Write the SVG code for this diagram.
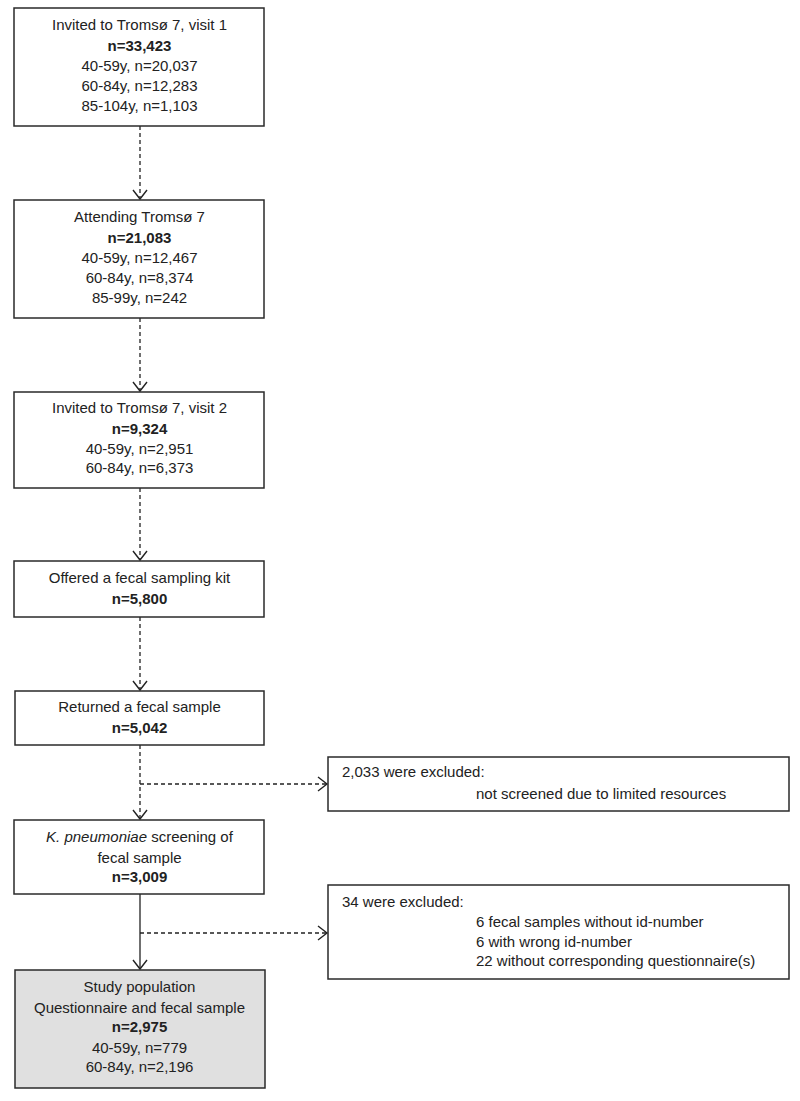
<svg xmlns="http://www.w3.org/2000/svg" width="800" height="1101" viewBox="0 0 800 1101">
<style>
.box{fill:#fff;stroke:#2a2a2a;stroke-width:1.5}
.grey{fill:#e0e0e0}
text{font-family:"Liberation Sans",Arial,sans-serif;font-size:15px;fill:#222}
.c{text-anchor:middle}
.b{font-weight:bold}
.dash{fill:none;stroke:#222;stroke-width:1.3;stroke-dasharray:4,3}
.solid{fill:none;stroke:#222;stroke-width:1.3}
</style>
<defs>
<marker id="ah" markerUnits="userSpaceOnUse" markerWidth="20" markerHeight="20" viewBox="-12 -10 14 20" refX="0" refY="0" orient="auto">
<path d="M-9,-7 L0,0 L-9,7" fill="none" stroke="#222" stroke-width="1.4"/>
</marker>
</defs>
<rect width="800" height="1101" fill="#fff"/>
<g id="connectors">
<line class="dash" x1="140" y1="126" x2="140" y2="199" marker-end="url(#ah)"/>
<line class="dash" x1="140" y1="318" x2="140" y2="391" marker-end="url(#ah)"/>
<line class="dash" x1="140" y1="488" x2="140" y2="560" marker-end="url(#ah)"/>
<line class="dash" x1="140" y1="617" x2="140" y2="690" marker-end="url(#ah)"/>
<line class="dash" x1="140" y1="745" x2="140" y2="819" marker-end="url(#ah)"/>
<line class="dash" x1="140" y1="784" x2="327" y2="784" marker-end="url(#ah)"/>
<line class="solid" x1="140" y1="894" x2="140" y2="969" marker-end="url(#ah)"/>
<line class="dash" x1="140" y1="933" x2="327" y2="933" marker-end="url(#ah)"/>
</g>
<g id="invited1">
<rect class="box" x="14" y="8" width="250" height="118"/>
<text class="c" x="139.5" y="30">Invited to Tromsø 7, visit 1</text>
<text class="c b" x="139.5" y="51">n=33,423</text>
<text class="c" x="139.5" y="71">40-59y, n=20,037</text>
<text class="c" x="139.5" y="91">60-84y, n=12,283</text>
<text class="c" x="139.5" y="111">85-104y, n=1,103</text>
</g>
<g id="attending">
<rect class="box" x="14" y="200" width="250" height="118"/>
<text class="c" x="139.5" y="222">Attending Tromsø 7</text>
<text class="c b" x="139.5" y="243">n=21,083</text>
<text class="c" x="139.5" y="263">40-59y, n=12,467</text>
<text class="c" x="139.5" y="283">60-84y, n=8,374</text>
<text class="c" x="139.5" y="303">85-99y, n=242</text>
</g>
<g id="invited2">
<rect class="box" x="14" y="392" width="250" height="96"/>
<text class="c" x="139.5" y="413">Invited to Tromsø 7, visit 2</text>
<text class="c b" x="139.5" y="434">n=9,324</text>
<text class="c" x="139.5" y="454">40-59y, n=2,951</text>
<text class="c" x="139.5" y="473">60-84y, n=6,373</text>
</g>
<g id="offered">
<rect class="box" x="14" y="561" width="250" height="56"/>
<text class="c" x="139.5" y="583">Offered a fecal sampling kit</text>
<text class="c b" x="139.5" y="604">n=5,800</text>
</g>
<g id="returned">
<rect class="box" x="15" y="691" width="249" height="54"/>
<text class="c" x="139.5" y="712">Returned a fecal sample</text>
<text class="c b" x="139.5" y="733">n=5,042</text>
</g>
<g id="screening">
<rect class="box" x="14" y="820" width="250" height="74"/>
<text class="c" x="139.5" y="842"><tspan font-style="italic">K. pneumoniae</tspan> screening of</text>
<text class="c" x="139.5" y="863">fecal sample</text>
<text class="c b" x="139.5" y="882">n=3,009</text>
</g>
<g id="study">
<rect class="box grey" x="15" y="970" width="250" height="118"/>
<text class="c" x="139.5" y="992">Study population</text>
<text class="c" x="139.5" y="1013">Questionnaire and fecal sample</text>
<text class="c b" x="139.5" y="1032">n=2,975</text>
<text class="c" x="139.5" y="1053">40-59y, n=779</text>
<text class="c" x="139.5" y="1072">60-84y, n=2,196</text>
</g>
<g id="excluded1">
<rect class="box" x="328" y="757" width="461" height="54"/>
<text x="342" y="777">2,033 were excluded:</text>
<text x="476" y="799">not screened due to limited resources</text>
</g>
<g id="excluded2">
<rect class="box" x="328" y="885" width="461" height="94"/>
<text x="342" y="907">34 were excluded:</text>
<text x="476" y="927">6 fecal samples without id-number</text>
<text x="476" y="947">6 with wrong id-number</text>
<text x="476" y="966">22 without corresponding questionnaire(s)</text>
</g>
</svg>
